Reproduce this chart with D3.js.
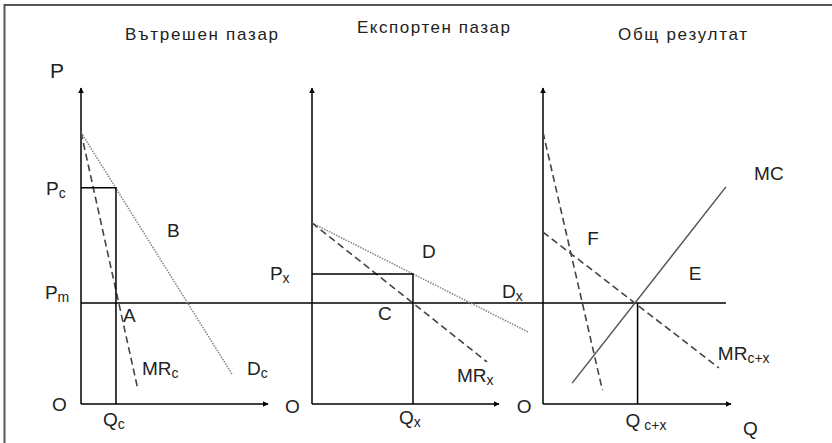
<!DOCTYPE html>
<html><head><meta charset="utf-8">
<script src="https://cdn.jsdelivr.net/npm/d3@7"></script>
<style>body{margin:0;background:#fff}svg{display:block}text{font-family:"Liberation Sans",Arial,sans-serif;fill:#222}</style>
</head><body><svg id="c" width="832" height="443"></svg>
<script>
// ---- data (abstract units: Q 0..100, P 0..100) ----
const panelTitles = ["Вътрешен пазар", "Експортен пазар", "Общ резултат"];
const priceMonopoly = 32;          // Pm
// Panel 1 – domestic market
const demandDomestic = [[0, 86], [80.7, 9.5]];
const mrDomestic = [[0, 86], [30.5, 4.4]];
const priceDomestic = 68.4, qtyDomestic = 18.7;
// Panel 2 – export market
const demandExport = [[0, 57.3], [115.5, 22.8]];
const mrExport = [[0, 57.3], [93.6, 13.3]];
const priceExport = 41.1, qtyExport = 54;
// Panel 3 – total
const mrDomesticCopy = [[0, 86], [31.6, 4.4]];
const mrTotal = [[0, 54.4], [93.6, 11.4]];
const marginalCost = [[15.5, 6.6], [97.3, 68.7]];
const qtyTotal = 50.3;
const pmLineEnd = 97.3;
// labels: [panel, Q, P, main, sub]
const labels = [
  [0, -16.6, 103.2, "P", ""], [0, -18.7, 66.1, "P", "c"], [0, 46, 52.8, "B", ""],
  [0, -19.3, 33.2, "P", "m"], [0, 22.5, 25.9, "A", ""], [0, 32.6, 9.2, "MR", "c"],
  [0, 88.8, 9.2, "D", "c"], [0, -15.5, -2.2, "O", ""], [0, 11.8, -7, "Q", "c"],
  [1, -22.5, 39.2, "P", "x"], [1, 58.8, 46.2, "D", ""], [1, 101.6, 33.5, "D", "x"],
  [1, 35.3, 26.6, "C", ""], [1, 77.5, 7, "MR", "x"], [1, -14.4, -2.8, "O", ""],
  [1, 46.5, -6.3, "Q", "x"],
  [2, -13.9, -2.8, "O", ""], [2, 112.3, 70.9, "MC", ""], [2, 23.5, 50.3, "F", ""],
  [2, 77.5, 39.2, "E", ""], [2, 93, 13.9, "MR", "c+x"], [2, 43.9, -7.3, "Q", " c+x"],
  [2, 106.4, -9.8, "Q", ""]
];

// ---- layout ----
const svg = d3.select("#c");
const y = d3.scaleLinear().domain([0, 100]).range([404, 88]);
const xs = [
  d3.scaleLinear().domain([0, 100]).range([81, 268]),
  d3.scaleLinear().domain([0, 100]).range([312, 499]),
  d3.scaleLinear().domain([0, 100]).range([543, 731])
];
const titlePos = [[125, 40, 153], [357, 33, 153], [618, 40, 129]];

// frame
svg.append("path").attr("d", "M4.5,443V5H832").attr("fill", "none").attr("stroke", "#555").attr("stroke-width", 2);

svg.append("defs").append("marker").attr("id", "arr").attr("viewBox", "0 0 10 10")
  .attr("refX", 9).attr("refY", 5).attr("markerWidth", 6).attr("markerHeight", 6)
  .attr("markerUnits", "userSpaceOnUse").attr("orient", "auto")
  .append("path").attr("d", "M0,0L10,5L0,10z").attr("fill", "#000");

const line = (x) => d3.line().x(d => x(d[0])).y(d => y(d[1]));

function seg(x, pts, stroke, w, dash) {
  const p = svg.append("path").attr("d", line(x)(pts)).attr("fill", "none")
    .attr("stroke", stroke).attr("stroke-width", w);
  if (dash) p.attr("stroke-dasharray", dash);
  return p;
}
const DOT = "1.5,1.2", DASH = "7,4";

xs.forEach((x, i) => {
  seg(x, [[0, 0], [0, 100]], "#000", 1.5).attr("marker-end", "url(#arr)");
  seg(x, [[0, 0], [100, 0]], "#000", 1.5).attr("marker-end", "url(#arr)");
  const t = titlePos[i];
  svg.append("text").attr("x", t[0]).attr("y", t[1]).attr("font-size", 17)
    .attr("textLength", t[2]).attr("lengthAdjust", "spacing").text(panelTitles[i]);
});

// Pm line across all panels
svg.append("line").attr("x1", xs[0](0)).attr("x2", xs[2](pmLineEnd))
  .attr("y1", y(priceMonopoly)).attr("y2", y(priceMonopoly)).attr("stroke", "#000").attr("stroke-width", 1.5);

// panel 1
seg(xs[0], demandDomestic, "#8a8a8a", 1.6, DOT);
seg(xs[0], mrDomestic, "#444", 1.6, DASH);
seg(xs[0], [[0, priceDomestic], [qtyDomestic, priceDomestic], [qtyDomestic, 0]], "#000", 1.5);
// panel 2
seg(xs[1], demandExport, "#8a8a8a", 1.6, DOT);
seg(xs[1], mrExport, "#444", 1.6, DASH);
seg(xs[1], [[0, priceExport], [qtyExport, priceExport], [qtyExport, 0]], "#000", 1.5);
// panel 3
seg(xs[2], mrDomesticCopy, "#444", 1.6, DASH);
seg(xs[2], mrTotal, "#444", 1.6, DASH);
seg(xs[2], marginalCost, "#555", 1.5);
seg(xs[2], [[qtyTotal, priceMonopoly], [qtyTotal, 0]], "#000", 1.5);

// labels
labels.forEach(([p, q, v, main, sub]) => {
  const t = svg.append("text").attr("x", xs[p](q)).attr("y", y(v)).attr("font-size", main === "P" && sub === "" ? 21 : 19);
  t.append("tspan").text(main);
  if (sub) t.append("tspan").attr("font-size", 14).attr("dy", 3).attr("xml:space", "preserve").style("white-space", "pre").text(sub);
});
</script></body></html>
